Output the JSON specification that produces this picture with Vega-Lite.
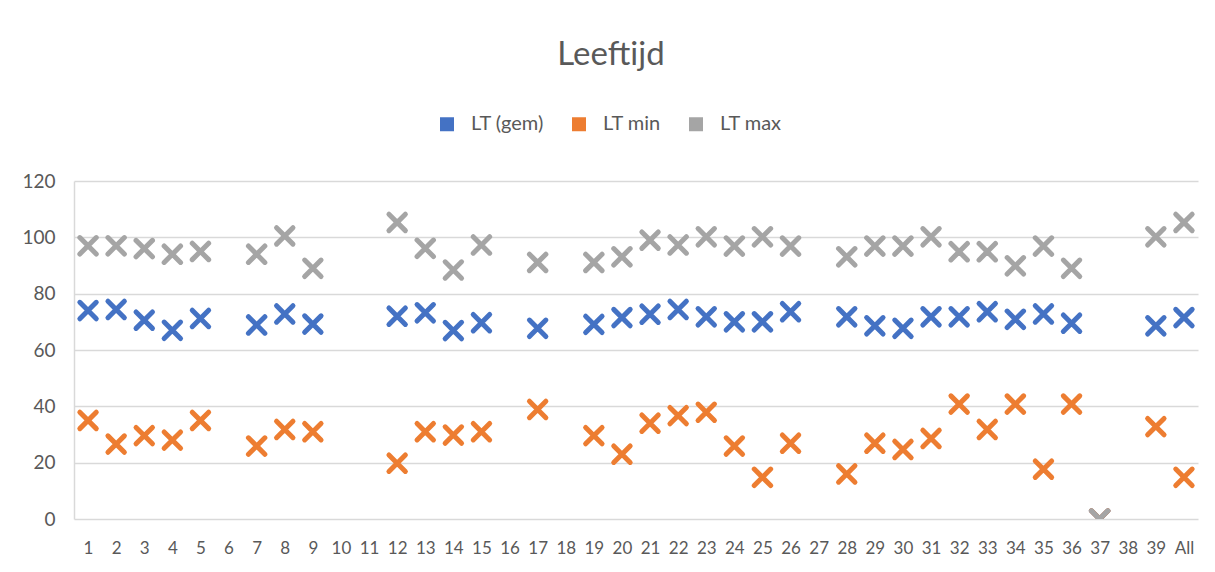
{
  "$schema": "https://vega.github.io/schema/vega-lite/v6.json",
  "autosize": "none",
  "width": 1124,
  "height": 338,
  "padding": {"left": 74, "top": 181, "right": 17, "bottom": 53},
  "background": "white",
  "title": {
    "text": "Leeftijd",
    "anchor": "middle",
    "frame": "group",
    "dx": -25,
    "offset": 42,
    "font": "Lato",
    "fontSize": 33,
    "fontWeight": "normal",
    "color": "#595959"
  },
  "config": {
    "view": {"stroke": null},
    "font": "Lato"
  },
  "data": {
    "values": [
      {"cat": "1", "series": "LT (gem)", "value": 74},
      {"cat": "2", "series": "LT (gem)", "value": 74.4},
      {"cat": "3", "series": "LT (gem)", "value": 70.6},
      {"cat": "4", "series": "LT (gem)", "value": 67},
      {"cat": "5", "series": "LT (gem)", "value": 71.2},
      {"cat": "7", "series": "LT (gem)", "value": 68.9},
      {"cat": "8", "series": "LT (gem)", "value": 72.8},
      {"cat": "9", "series": "LT (gem)", "value": 69.2},
      {"cat": "12", "series": "LT (gem)", "value": 72},
      {"cat": "13", "series": "LT (gem)", "value": 73.2},
      {"cat": "14", "series": "LT (gem)", "value": 66.9},
      {"cat": "15", "series": "LT (gem)", "value": 69.7},
      {"cat": "17", "series": "LT (gem)", "value": 67.7},
      {"cat": "19", "series": "LT (gem)", "value": 69.1},
      {"cat": "20", "series": "LT (gem)", "value": 71.5},
      {"cat": "21", "series": "LT (gem)", "value": 72.7},
      {"cat": "22", "series": "LT (gem)", "value": 74.4},
      {"cat": "23", "series": "LT (gem)", "value": 71.8},
      {"cat": "24", "series": "LT (gem)", "value": 70},
      {"cat": "25", "series": "LT (gem)", "value": 70},
      {"cat": "26", "series": "LT (gem)", "value": 73.6},
      {"cat": "28", "series": "LT (gem)", "value": 71.8},
      {"cat": "29", "series": "LT (gem)", "value": 68.6},
      {"cat": "30", "series": "LT (gem)", "value": 67.7},
      {"cat": "31", "series": "LT (gem)", "value": 71.8},
      {"cat": "32", "series": "LT (gem)", "value": 71.8},
      {"cat": "33", "series": "LT (gem)", "value": 73.6},
      {"cat": "34", "series": "LT (gem)", "value": 70.9},
      {"cat": "35", "series": "LT (gem)", "value": 72.8},
      {"cat": "36", "series": "LT (gem)", "value": 69.5},
      {"cat": "37", "series": "LT (gem)", "value": 0},
      {"cat": "39", "series": "LT (gem)", "value": 68.6},
      {"cat": "All", "series": "LT (gem)", "value": 71.5},
      {"cat": "1", "series": "LT min", "value": 35},
      {"cat": "2", "series": "LT min", "value": 26.6},
      {"cat": "3", "series": "LT min", "value": 29.6},
      {"cat": "4", "series": "LT min", "value": 28},
      {"cat": "5", "series": "LT min", "value": 35},
      {"cat": "7", "series": "LT min", "value": 25.9},
      {"cat": "8", "series": "LT min", "value": 31.8},
      {"cat": "9", "series": "LT min", "value": 31},
      {"cat": "12", "series": "LT min", "value": 19.8},
      {"cat": "13", "series": "LT min", "value": 31},
      {"cat": "14", "series": "LT min", "value": 29.8},
      {"cat": "15", "series": "LT min", "value": 31},
      {"cat": "17", "series": "LT min", "value": 38.9},
      {"cat": "19", "series": "LT min", "value": 29.6},
      {"cat": "20", "series": "LT min", "value": 23},
      {"cat": "21", "series": "LT min", "value": 34},
      {"cat": "22", "series": "LT min", "value": 36.7},
      {"cat": "23", "series": "LT min", "value": 37.9},
      {"cat": "24", "series": "LT min", "value": 25.9},
      {"cat": "25", "series": "LT min", "value": 14.8},
      {"cat": "26", "series": "LT min", "value": 26.9},
      {"cat": "28", "series": "LT min", "value": 16},
      {"cat": "29", "series": "LT min", "value": 26.9},
      {"cat": "30", "series": "LT min", "value": 24.7},
      {"cat": "31", "series": "LT min", "value": 28.6},
      {"cat": "32", "series": "LT min", "value": 40.8},
      {"cat": "33", "series": "LT min", "value": 31.8},
      {"cat": "34", "series": "LT min", "value": 40.8},
      {"cat": "35", "series": "LT min", "value": 17.7},
      {"cat": "36", "series": "LT min", "value": 40.8},
      {"cat": "37", "series": "LT min", "value": 0},
      {"cat": "39", "series": "LT min", "value": 32.8},
      {"cat": "All", "series": "LT min", "value": 14.8},
      {"cat": "1", "series": "LT max", "value": 97},
      {"cat": "2", "series": "LT max", "value": 97},
      {"cat": "3", "series": "LT max", "value": 96},
      {"cat": "4", "series": "LT max", "value": 94},
      {"cat": "5", "series": "LT max", "value": 95},
      {"cat": "7", "series": "LT max", "value": 94},
      {"cat": "8", "series": "LT max", "value": 100.5},
      {"cat": "9", "series": "LT max", "value": 89},
      {"cat": "12", "series": "LT max", "value": 105.3},
      {"cat": "13", "series": "LT max", "value": 96.1},
      {"cat": "14", "series": "LT max", "value": 88.4},
      {"cat": "15", "series": "LT max", "value": 97.3},
      {"cat": "17", "series": "LT max", "value": 91.1},
      {"cat": "19", "series": "LT max", "value": 91.1},
      {"cat": "20", "series": "LT max", "value": 93.1},
      {"cat": "21", "series": "LT max", "value": 99},
      {"cat": "22", "series": "LT max", "value": 97.3},
      {"cat": "23", "series": "LT max", "value": 100.2},
      {"cat": "24", "series": "LT max", "value": 96.9},
      {"cat": "25", "series": "LT max", "value": 100.2},
      {"cat": "26", "series": "LT max", "value": 96.9},
      {"cat": "28", "series": "LT max", "value": 93.1},
      {"cat": "29", "series": "LT max", "value": 96.9},
      {"cat": "30", "series": "LT max", "value": 96.9},
      {"cat": "31", "series": "LT max", "value": 100.2},
      {"cat": "32", "series": "LT max", "value": 94.9},
      {"cat": "33", "series": "LT max", "value": 94.9},
      {"cat": "34", "series": "LT max", "value": 89.9},
      {"cat": "35", "series": "LT max", "value": 96.9},
      {"cat": "36", "series": "LT max", "value": 89},
      {"cat": "37", "series": "LT max", "value": 0},
      {"cat": "39", "series": "LT max", "value": 100.2},
      {"cat": "All", "series": "LT max", "value": 105.3}
    ]
  },
  "mark": {
    "type": "point",
    "shape": "M-1,-1L1,1M-1,1L1,-1",
    "filled": false,
    "size": 270,
    "strokeWidth": 5,
    "strokeCap": "round",
    "opacity": 1,
    "clip": true
  },
  "encoding": {
    "x": {
      "field": "cat",
      "type": "ordinal",
      "sort": null,
      "scale": {
        "type": "point",
        "padding": 0.5,
        "domain": ["1","2","3","4","5","6","7","8","9","10","11","12","13","14","15","16","17","18","19","20","21","22","23","24","25","26","27","28","29","30","31","32","33","34","35","36","37","38","39","All"]
      },
      "axis": {
        "title": null,
        "labelAngle": 0,
        "labelFontSize": 17,
        "labelColor": "#595959",
        "labelPadding": 21,
        "ticks": false,
        "domain": false,
        "grid": false
      }
    },
    "y": {
      "field": "value",
      "type": "quantitative",
      "scale": {"domain": [0, 120], "nice": false},
      "axis": {
        "title": null,
        "values": [0, 20, 40, 60, 80, 100, 120],
        "labelFontSize": 19,
        "labelColor": "#595959",
        "labelPadding": 19,
        "ticks": false,
        "domain": true,
        "domainColor": "#d9d9d9",
        "domainWidth": 1.5,
        "grid": true,
        "gridColor": "#d9d9d9",
        "gridWidth": 1.5
      }
    },
    "color": {
      "field": "series",
      "type": "nominal",
      "sort": ["LT (gem)", "LT min", "LT max"],
      "scale": {
        "domain": ["LT (gem)", "LT min", "LT max"],
        "range": ["#4472C4", "#ED7D31", "#A5A5A5"]
      },
      "legend": {
        "title": null,
        "orient": "none",
        "legendX": 363,
        "legendY": -67,
        "direction": "horizontal",
        "symbolType": "square",
        "symbolSize": 49,
        "symbolStrokeWidth": 7,
        "symbolOpacity": 1,
        "labelFontSize": 20,
        "labelColor": "#595959",
        "labelOffset": 14,
        "columnPadding": 17
      }
    }
  }
}
